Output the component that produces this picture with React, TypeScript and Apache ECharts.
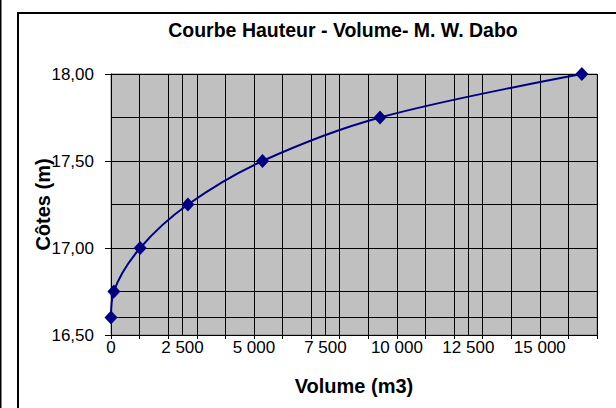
import React, { useEffect, useRef } from "react";
import * as echarts from "echarts";

const titleText = "Courbe Hauteur - Volume- M. W. Dabo";
const xName = "Volume (m3)";
const yName = "Côtes (m)";
const volumes = [0, 100, 1020, 2690, 5300, 9410, 16470];
const cotes = [16.6, 16.75, 17.0, 17.25, 17.5, 17.75, 18.0];
const extraLevel = [16.6];

const fmtX = (v: number) => String(Math.round(v)).replace(/\B(?=(\d{3})+(?!\d))/g, " ");
const fmtY = (v: number) => v.toFixed(2).replace(".", ",");

export default function App() {
  const ref = useRef<HTMLDivElement>(null);
  useEffect(() => {
    if (!ref.current) return;
    const chart = echarts.init(ref.current, null, { renderer: "svg" });
    const font = "'Liberation Sans', Arial, sans-serif";
    const data = volumes.map((v, i) => [v, cotes[i]]);
    chart.setOption({
      animation: false,
      backgroundColor: "#fff",
      textStyle: { fontFamily: font },
      grid: {
        left: 111,
        top: 74,
        right: 19,
        bottom: 73,
        show: true,
        backgroundColor: "#C0C0C0",
        borderColor: "#808080",
        borderWidth: 1,
        containLabel: false,
      },
      graphic: [
        {
          type: "rect",
          shape: { x: 18, y: 13, width: 700, height: 500 },
          style: { fill: "none", stroke: "#000", lineWidth: 2 },
          silent: true,
        },
        {
          type: "rect",
          shape: { x: 0, y: 0, width: 1.5, height: 408 },
          style: { fill: "#000" },
          silent: true,
        },
        {
          type: "text",
          x: 343,
          y: 20,
          style: {
            text: titleText,
            font: `bold 19.5px ${font}`,
            fill: "#000",
            textAlign: "center",
            textVerticalAlign: "top",
          },
        },
      ],
      xAxis: [
        {
          type: "value",
          min: 0,
          max: 17000,
          interval: 1000,
          position: "bottom",
          axisLine: { show: true, onZero: false, lineStyle: { color: "#000", width: 1 } },
          axisTick: { show: true, inside: false, length: 4, lineStyle: { color: "#000" } },
          axisLabel: { show: false },
          splitLine: { show: true, lineStyle: { color: "#000", width: 1 } },
          name: xName,
          nameLocation: "middle",
          nameGap: 41,
          nameMoveOverlap: false,
          nameTextStyle: { fontFamily: font, fontSize: 20, fontWeight: "bold", color: "#000", verticalAlign: "top" },
        },
        {
          type: "value",
          min: 0,
          max: 17000,
          interval: 2500,
          position: "bottom",
          axisLine: { show: false, onZero: false },
          axisTick: { show: false },
          axisLabel: {
            show: true,
            margin: 4,
            color: "#000",
            fontSize: 17,
            fontFamily: font,
            formatter: (v: number) => fmtX(v),
            showMaxLabel: false,
          },
          splitLine: { show: true, lineStyle: { color: "#000", width: 1 } },
        },
      ],
      yAxis: [
        {
          type: "value",
          min: 16.5,
          max: 18,
          interval: 0.5,
          position: "left",
          axisLine: { show: true, onZero: false, lineStyle: { color: "#000", width: 1 } },
          axisTick: { show: true, inside: false, length: 6, lineStyle: { color: "#000" } },
          axisLabel: {
            show: true,
            margin: 17,
            color: "#000",
            fontSize: 17,
            fontFamily: font,
            formatter: (v: number) => fmtY(v),
          },
          splitLine: { show: false },
          name: yName,
          nameLocation: "middle",
          nameGap: 58,
          nameMoveOverlap: false,
          nameRotate: 90,
          nameTextStyle: { fontFamily: font, fontSize: 20, fontWeight: "bold", color: "#000" },
        },
        {
          type: "value",
          min: 16.5,
          max: 18,
          interval: 0.25,
          position: "left",
          axisLine: { show: false, onZero: false },
          axisTick: { show: false },
          axisLabel: { show: false },
          splitLine: { show: true, lineStyle: { color: "#000", width: 1 } },
        },
      ],
      series: [
        {
          type: "line",
          xAxisIndex: 0,
          yAxisIndex: 0,
          data,
          smooth: 0.35,
          symbol: "diamond",
          symbolSize: [13, 14],
          itemStyle: { color: "#000080" },
          lineStyle: { color: "#000080", width: 2 },
          z: 5,
          markLine: {
            silent: true,
            symbol: "none",
            label: { show: false },
            lineStyle: { color: "#000", width: 1, type: "solid" },
            data: extraLevel.map((y) => ({ yAxis: y })),
            z: 1,
          },
        },
      ],
    });
    return () => chart.dispose();
  }, []);
  return (
    <div
      ref={ref}
      style={{ position: "absolute", left: 0, top: 0, width: 616, height: 408 }}
    />
  );
}
